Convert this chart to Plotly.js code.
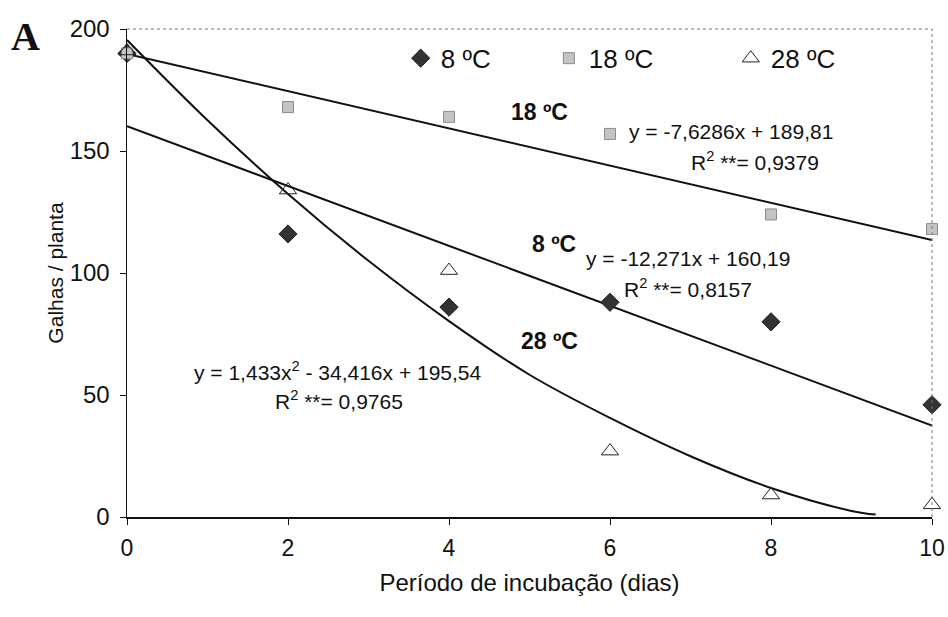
<!DOCTYPE html>
<html><head><meta charset="utf-8">
<script src="https://cdn.plot.ly/plotly-3.0.1.min.js"></script>
<style>body{margin:0;background:#fff}#c{width:948px;height:617px}</style>
</head><body><div id="c"></div>
<script>
const days = [0, 2, 4, 6, 8, 10];
const t8 = [190, 116, 86, 88, 80, 46];
const t18 = [190, 168, 164, 157, 124, 118];
const t28 = [191, 134, 101, 27, 9, 5];
// trend lines
const fit8x = [0, 10], fit8y = [160.2, 37.5];
const fit18x = [0, 10], fit18y = [189.8, 113.5];
const fit28x = [0, 1, 2, 3, 4, 5, 6, 7, 8, 9, 9.3];
const fit28y = [195.5, 162.6, 132.4, 105, 80.3, 58.3, 40.6, 24.9, 11.9, 2.5, 1];
const names = ['8 ºC', '18 ºC', '28 ºC'];
const xTicks = [0, 2, 4, 6, 8, 10];
const yTicks = [0, 50, 100, 150, 200];

const line = {color: '#111', width: 2};
const traces = [
  {x: fit18x, y: fit18y, mode: 'lines', line: line, showlegend: false, hoverinfo: 'skip'},
  {x: fit8x, y: fit8y, mode: 'lines', line: line, showlegend: false, hoverinfo: 'skip'},
  {x: fit28x, y: fit28y, mode: 'lines', line: Object.assign({shape: 'spline'}, line), showlegend: false, hoverinfo: 'skip'},
  {x: days, y: t8, name: names[0], mode: 'markers', cliponaxis: false, legend: 'legend',
   marker: {symbol: 'diamond', size: 14, color: '#333', line: {color: '#222', width: 1}}},
  {x: days, y: t18, name: names[1], mode: 'markers', cliponaxis: false, legend: 'legend2',
   marker: {symbol: 'square', size: 11, color: '#c4c4c4', line: {color: '#8a8a8a', width: 1}}},
  {x: days, y: t28, name: names[2], mode: 'markers', cliponaxis: false, legend: 'legend3',
   marker: {symbol: 'triangle-up-open', size: 15, color: '#222', line: {color: '#222', width: 1}}}
];

const f = 'Liberation Sans, Arial, sans-serif';
const ann = (x, y, text, size, extra) => Object.assign({x: x, y: y, xref: 'x', yref: 'y', text: text, showarrow: false,
  font: {family: f, size: size, color: '#111'}}, extra || {});
const leg = (x) => ({orientation: 'h', x: x, y: 0.94, xanchor: 'left', yanchor: 'middle',
  font: {family: f, size: 26, color: '#111'}, bgcolor: 'rgba(0,0,0,0)', itemwidth: 30});

const layout = {
  width: 948, height: 617,
  margin: {l: 127, r: 16, t: 29, b: 100},
  paper_bgcolor: '#fff', plot_bgcolor: '#fff',
  showlegend: true,
  legend: leg(0.34), legend2: leg(0.524), legend3: leg(0.75),
  xaxis: {range: [0, 10], tickvals: xTicks, ticktext: xTicks.map(String), showline: true, linecolor: '#111', linewidth: 1.5,
    ticks: 'outside', ticklen: 6, tickcolor: '#111', showgrid: false, zeroline: false,
    ticklabelstandoff: 4, tickfont: {family: f, size: 23, color: '#111'},
    title: {text: 'Período de incubação (dias)', font: {family: f, size: 24, color: '#111'}, standoff: 14}},
  yaxis: {range: [0, 200], tickvals: yTicks, ticktext: yTicks.map(String), showline: true, linecolor: '#111', linewidth: 1.5,
    ticks: 'outside', ticklen: 6, tickcolor: '#111', showgrid: false, zeroline: false,
    ticklabelstandoff: 5, tickfont: {family: f, size: 24, color: '#111'},
    title: {text: 'Galhas / planta', font: {family: f, size: 21, color: '#111'}, standoff: 0}},
  shapes: [
    {type: 'line', xref: 'paper', yref: 'paper', x0: 0, x1: 1, y0: 1, y1: 1, line: {color: '#777', width: 1, dash: 'dot'}},
    {type: 'line', xref: 'paper', yref: 'paper', x0: 1, x1: 1, y0: 0, y1: 1, line: {color: '#777', width: 1, dash: 'dot'}}
  ],
  annotations: [
    {xref: 'paper', yref: 'paper', x: -0.147, y: 0.985, xanchor: 'left', yanchor: 'middle', text: '<b>A</b>', showarrow: false,
     font: {family: 'Liberation Serif, Times New Roman, serif', size: 40, color: '#111'}},
    ann(5.13, 166, '<b>18 ºC</b>', 23),
    ann(7.5, 158, 'y = -7,6286x + 189,81', 21),
    ann(7.8, 146, 'R<sup>2</sup> **= 0,9379', 21),
    ann(5.3, 112, '<b>8 ºC</b>', 23),
    ann(6.97, 106, 'y = -12,271x + 160,19', 21),
    ann(6.97, 94, 'R<sup>2</sup> **= 0,8157', 21),
    ann(5.25, 72, '<b>28 ºC</b>', 23),
    ann(2.62, 60, 'y = 1,433x<sup>2</sup> - 34,416x + 195,54', 21),
    ann(2.63, 48, 'R<sup>2</sup> **= 0,9765', 21)
  ]
};
Plotly.newPlot('c', traces, layout, {displayModeBar: false, staticPlot: true});
</script></body></html>
